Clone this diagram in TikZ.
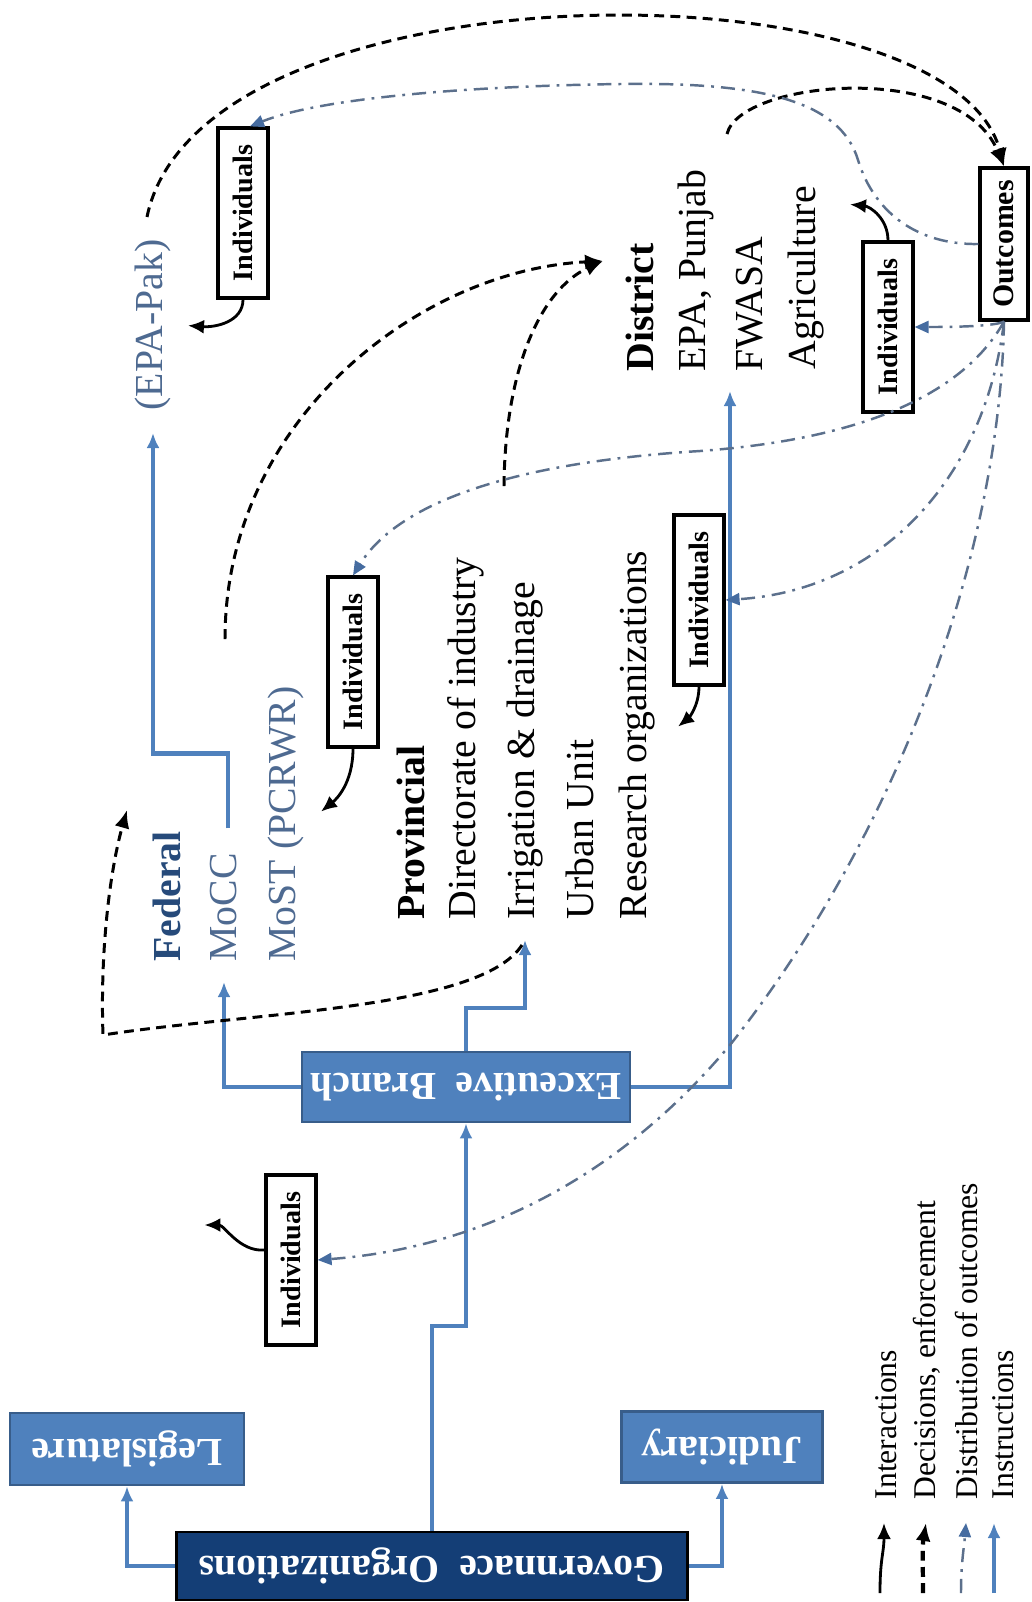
\documentclass[tikz,border=0pt]{standalone}
\usepackage{fontspec}
\setmainfont{Liberation Serif}
\usetikzlibrary{arrows.meta}
\usetikzlibrary{calc}
\definecolor{navybox}{RGB}{20,62,118}
\definecolor{midblue}{RGB}{79,129,189}
\definecolor{edgeblue}{RGB}{56,93,138}
\definecolor{fedblue}{RGB}{38,74,122}
\definecolor{orgblue}{RGB}{78,106,145}
\definecolor{distgray}{RGB}{92,112,140}
\definecolor{disttip}{RGB}{70,108,160}

\begin{document}
\begin{tikzpicture}[x=0.1mm, y=-0.1mm,
	instr/.style={draw=midblue, line width=1.2pt, -{Latex[length=1.5mm,width=1.3mm]}},
	decis/.style={draw=black, line width=0.85pt, dash pattern=on 2.8pt off 1.8pt, -{Latex[length=1.8mm,width=1.5mm]}},
	distr/.style={draw=distgray, line width=0.7pt, dash pattern=on 4pt off 2pt on 0.8pt off 2pt, -{Triangle[length=1.4mm,width=1.2mm,color=disttip]}},
	inter/.style={draw=black, line width=0.8pt, -{Latex[length=1.6mm,width=1.4mm]}},
	bluebox/.style={draw=edgeblue, line width=0.8pt, fill=midblue, text=white, inner sep=0, font=\fontsize{11.3}{13}\selectfont\bfseries},
	orgtext/.style={rotate=90, anchor=west, inner sep=0, font=\fontsize{11.3}{13}\selectfont},
	indiv/.style={draw, line width=0.9pt, fill=white, minimum width=5mm, minimum height=17mm, inner sep=0, font=\fontsize{8}{9}\selectfont\bfseries},
	legtext/.style={rotate=90, anchor=west, inner sep=0, font=\fontsize{9}{10}\selectfont}]
	\useasboundingbox (0,0) rectangle (1032,1602);

	% governance boxes
	\node[bluebox, fill=navybox, draw=black, minimum width=51.1mm, minimum height=6.8mm] (gov) at (432,1566) {\rotatebox{180}{Governnace\ \ Organizations}};
	\node[bluebox, minimum width=23.4mm, minimum height=7.2mm] (leg) at (127,1449) {\rotatebox{180}{Legislature}};
	\node[bluebox, minimum width=20.1mm, minimum height=7.1mm] (jud) at (722,1447) {\rotatebox{180}{Judiciary}};
	\node[bluebox, minimum width=32.8mm, minimum height=7mm] (exec) at (466,1087) {\rotatebox{180}{Exceutive\ \ Branch}};

	% federal
	\node[orgtext, text=fedblue] (fed) at (167,962) {\bfseries Federal};
	\node[orgtext, text=orgblue] (mocc) at (224,962) {MoCC};
	\node[orgtext, text=orgblue] (most) at (286,962) {MoST (PCRWR)};
	\node[orgtext, text=orgblue] (epapak) at (153,411) {(EPA-Pak)};

	% provincial
	\node[orgtext] (prov) at (411,920) {\bfseries Provincial};
	\node[orgtext] (dirind) at (466,920) {Directorate of industry};
	\node[orgtext] (irr) at (525,920) {Irrigation \& drainage};
	\node[orgtext] (urban) at (580,920) {Urban Unit};
	\node[orgtext] (research) at (637,920) {Research organizations};

	% district
	\node[orgtext] (dist) at (640,372) {\bfseries District};
	\node[orgtext] (epapun) at (696,372) {EPA, Punjab};
	\node[orgtext] (fwasa) at (750,372) {FWASA};
	\node[orgtext] (agri) at (806,370) {Agriculture};

	% individuals and outcomes
	\node[indiv] (i1) at (243,213) {\rotatebox{90}{Individuals}};
	\node[indiv] (i2) at (353,662) {\rotatebox{90}{Individuals}};
	\node[indiv] (i3) at (699,600) {\rotatebox{90}{Individuals}};
	\node[indiv] (i4) at (888,327) {\rotatebox{90}{Individuals}};
	\node[indiv] (i5) at (291,1260) {\rotatebox{90}{Individuals}};
	\node[indiv, minimum width=4.8mm, minimum height=15.2mm, font=\fontsize{8.5}{9}\selectfont\bfseries] (outc) at (1004,244) {\rotatebox{90}{Outcomes}};

	\coordinate (distin) at (730,391);
	\coordinate (distarr) at (603,261);
	\coordinate (fedstart) at (225,639);
	\coordinate (provstart) at (504,486);
	\coordinate (epastart) at (147,217);
	\coordinate (punstart) at (727,134);
	\coordinate (fedcorner) at (103,1035);
	\coordinate (fedtip) at (127,810);

	% instructions
	\draw[instr] (gov.west) -| (leg.south);
	\draw[instr] (gov.east) -| (jud.south);
	\draw[instr] (gov.north) -- ++(0,-205) -| (exec.south);
	\draw[instr, shorten >=2mm] (exec.west) -| (mocc.west);
	\draw[instr, shorten >=2mm] (exec.north) -- ++(0,-43) -| (irr.west);
	\draw[instr] (exec.east) -| (distin);
	\draw[instr, shorten >=2.2mm] ($(mocc.east)+(4,-24)$) -- ++(0,-75) -| (epapak.west);

	% decisions, enforcement
	\draw[decis] (epastart) .. controls (200,-40) and (950,-40) .. (outc.north);
	\draw[decis] (punstart) .. controls (740,80) and (960,60) .. (outc.north);
	\draw[decis] (fedstart) .. controls (225,420) and (420,270) .. (distarr);
	\draw[decis] (provstart) .. controls (505,370) and (540,290) .. (distarr);
	\draw[decis] ($(irr.west)+(-3,25)$) .. controls (480,1010) and (250,1012) .. (fedcorner)
		.. controls (100,950) and (110,870) .. (fedtip);

	% interactions
	\draw[inter] (i1.south) .. controls +(0,22) and +(28,2) .. ++(-55,26);
	\draw[inter] (i2.south) .. controls +(0,35) and +(15,-12) .. ++(-32,63);
	\draw[inter] (i3.south) .. controls +(0,20) and +(10,-8) .. ++(-21,40);
	\draw[inter] (i4.north) .. controls +(0,-22) and +(20,2) .. ++(-38,-36);
	\draw[inter] ($(i5.west)+(0,-10)$) .. controls +(-25,2) and +(20,0) .. ++(-60,-25);

	% distribution of outcomes
	\draw[distr] (outc.west) .. controls (920,245) and (875,215) .. (858,160)
		.. controls (840,100) and (760,82) .. (620,84)
		.. controls (470,86) and (320,98) .. ($(i1.north)+(7,0)$);
	\draw[distr] (outc.south) .. controls (995,326) and (960,327) .. (i4.east);
	\draw[distr] (outc.south) .. controls (960,400) and (850,440) .. (700,451)
		.. controls (520,462) and (400,500) .. (i2.north);
	\draw[distr] (outc.south) .. controls (985,480) and (880,590) .. (i3.east);
	\draw[distr] (outc.south) .. controls (1000,550) and (900,830) .. (730,1045)
		.. controls (600,1200) and (450,1250) .. (i5.east);

	% legend
	\node[legtext] (lgint) at (886,1500) {Interactions};
	\node[legtext] (lgdec) at (927,1500) {Decisions, enforcement};
	\node[legtext] (lgdis) at (967,1500) {Distribution of outcomes};
	\node[legtext] (lgins) at (1003,1500) {Instructions};
	\draw[inter] ($(lgint.west)+(-6,93)$) .. controls +(0,-35) and +(0,30) .. ($(lgint.west)+(-2,23)$);
	\draw[decis, line width=1.2pt] ($(lgdec.west)+(-4,93)$) .. controls +(0,-30) and +(-4,25) .. ($(lgdec.west)+(-1,23)$);
	\draw[distr] ($(lgdis.west)+(-6,93)$) .. controls +(0,-30) and +(-2,25) .. ($(lgdis.west)+(-1,23)$);
	\draw[instr] ($(lgins.west)+(-9,93)$) -- ($(lgins.west)+(-9,23)$);
\end{tikzpicture}
\end{document}
